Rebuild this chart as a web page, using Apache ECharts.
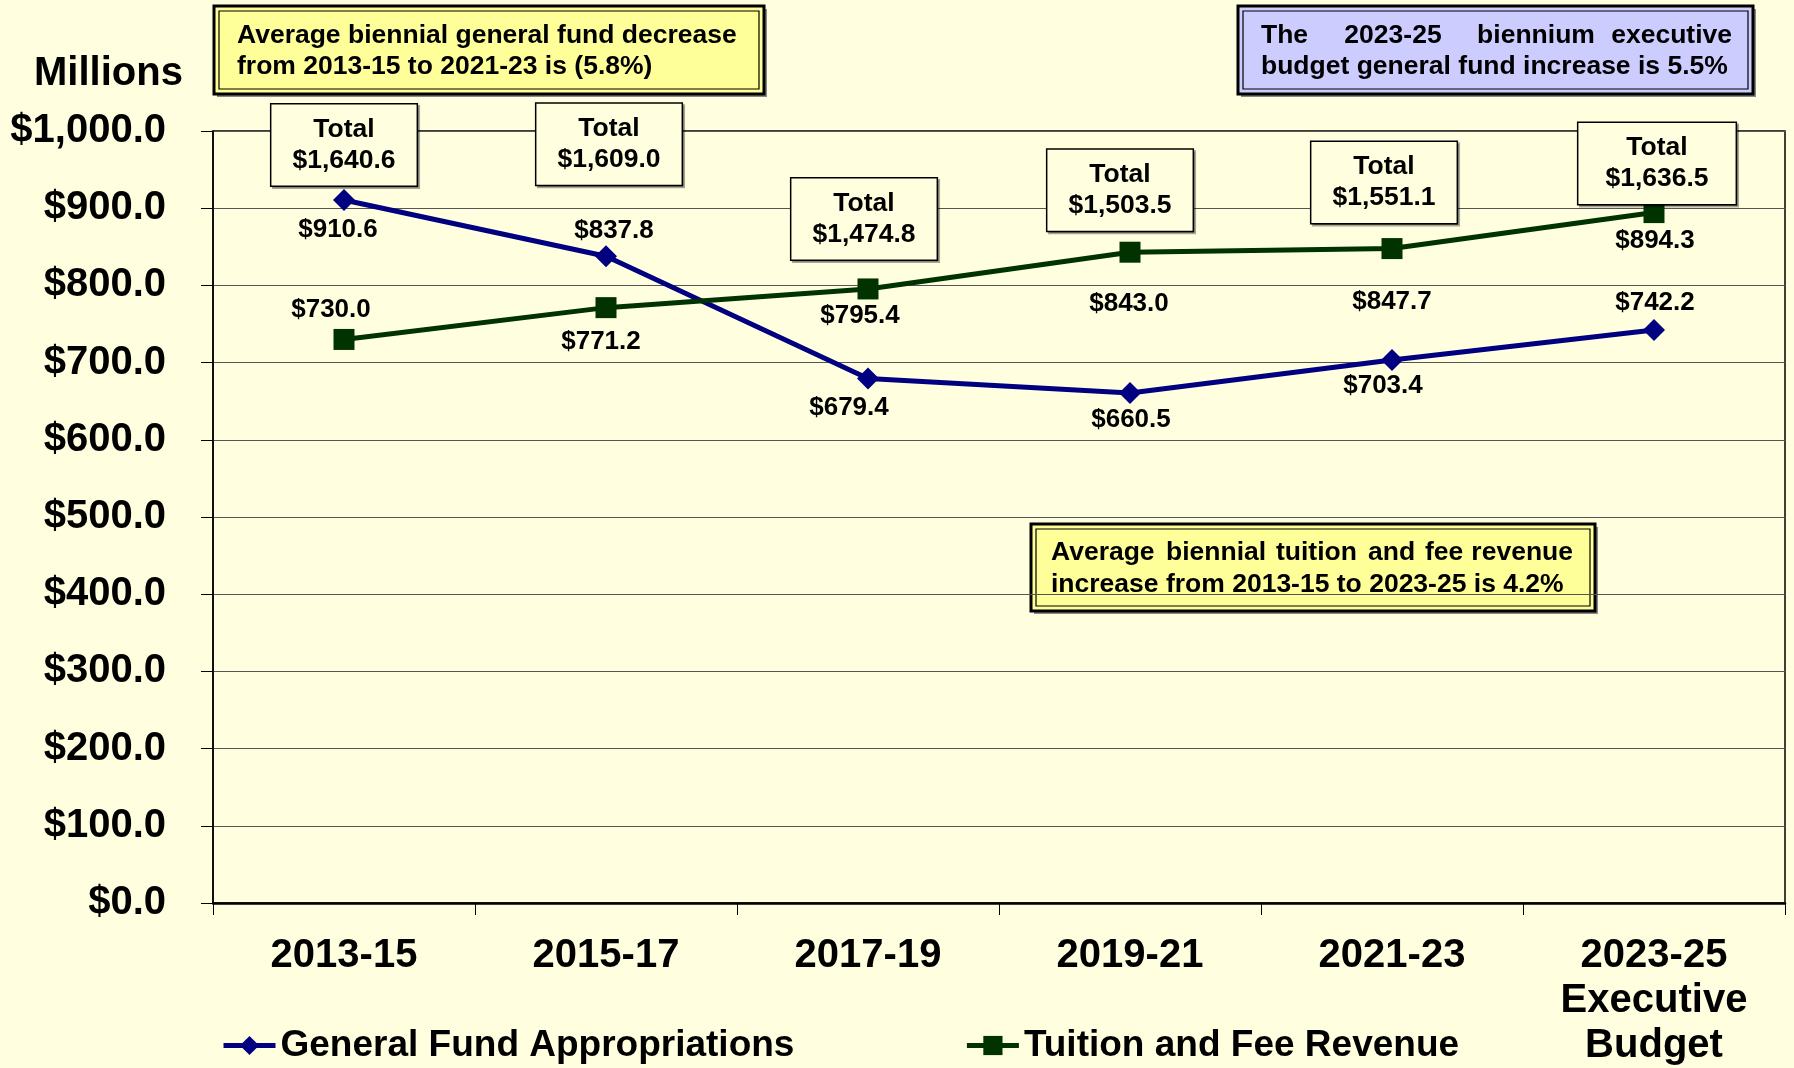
<!DOCTYPE html>
<html>
<head>
<meta charset="utf-8">
<script src="https://cdn.jsdelivr.net/npm/echarts@6/dist/echarts.min.js"></script>
<style>
  html, body { margin: 0; padding: 0; background: #FFFFE0; }
  #main { width: 1794px; height: 1068px; }
</style>
</head>
<body>
<div id="main"></div>
<script>
// biennium data, millions of dollars
const biennia = ['2013-15', '2015-17', '2017-19', '2019-21', '2021-23', '2023-25\nExecutive\nBudget'];
const generalFund = [910.6, 837.8, 679.4, 660.5, 703.4, 742.2];
const tuitionFees = [730.0, 771.2, 795.4, 843.0, 847.7, 894.3];
const yTicks = { min: 0, max: 1000, step: 100 };

// label placement (pixels, relative to the point)
const gfOffsets = [[-6, 30], [8, -25], [-19, 29], [1, 27], [-9, 26], [1, -27]];
const tfOffsets = [[-13, -30], [-5, 34], [-8, 27], [-1, 52], [0, 53], [1, 28]];
const totalOffsets = [[0, -55], [3, -112], [-4, -70], [-10, -62], [-8, -66], [3, -49]];

const FONT = '"Liberation Sans", Arial, sans-serif';
const BG = '#FFFFE0';

function money(v) {
  return '$' + v.toLocaleString('en-US', { minimumFractionDigits: 1, maximumFractionDigits: 1 });
}

var chartDom = document.getElementById('main');
var myChart = echarts.init(chartDom, null, { renderer: 'canvas' });

const totals = generalFund.map((g, i) => Math.round((g + tuitionFees[i]) * 10) / 10);

function valueLabels(values, offsets) {
  return values.map((v, i) => ({
    value: v,
    label: { offset: offsets[i] }
  }));
}

// annotation box with a double border
function noteBox(x, y, w, h, fill, lines) {
  return {
    type: 'group',
    children: [
      { type: 'rect', shape: { x: x + 3, y: y + 3, width: w, height: h }, style: { fill: '#888' } },
      { type: 'rect', shape: { x: x, y: y, width: w, height: h }, style: { fill: fill, stroke: '#000', lineWidth: 3 } },
      { type: 'rect', shape: { x: x + 5, y: y + 5, width: w - 10, height: h - 10 }, style: { fill: 'none', stroke: '#000', lineWidth: 1.2 } }
    ].concat(lines.map(l => ({
      type: 'text',
      x: l.x, y: l.y,
      style: {
        text: l.text, fill: '#000', fontFamily: FONT, fontWeight: 'bold', fontSize: 26.5,
        align: l.align || 'left', verticalAlign: 'middle'
      }
    })))
  };
}

var option = {
  backgroundColor: BG,
  animation: false,
  textStyle: { fontFamily: FONT },
  grid: {
    left: 213, right: 9, top: 131, bottom: 161,
    show: true, borderColor: '#000', borderWidth: 1.5, backgroundColor: 'transparent'
  },
  legend: {
    data: ['General Fund Appropriations', 'Tuition and Fee Revenue'],
    left: 216, top: 1022,
    itemWidth: 52, itemHeight: 24, itemGap: 170,
    lineStyle: { width: 5 },
    textStyle: { fontSize: 37, fontWeight: 'bold', color: '#000', fontFamily: FONT }
  },
  xAxis: {
    type: 'category',
    data: biennia,
    boundaryGap: true,
    axisLine: { lineStyle: { color: '#000', width: 2.5 } },
    axisTick: { show: true, length: 12, lineStyle: { color: '#000', width: 1 } },
    axisLabel: {
      interval: 0, margin: 30, color: '#000', fontSize: 40, fontWeight: 'bold',
      lineHeight: 45, fontFamily: FONT
    }
  },
  yAxis: {
    type: 'value',
    min: yTicks.min, max: yTicks.max, interval: yTicks.step,
    axisLine: { show: true, lineStyle: { color: '#000', width: 1.5 } },
    axisTick: { show: true, length: 12, lineStyle: { color: '#000', width: 1 } },
    splitLine: { lineStyle: { color: '#555', width: 1.2 } },
    axisLabel: {
      margin: 47, color: '#000', fontSize: 40, fontWeight: 'bold', fontFamily: FONT,
      formatter: v => money(v)
    }
  },
  series: [
    {
      name: 'General Fund Appropriations',
      type: 'line',
      data: valueLabels(generalFund, gfOffsets),
      symbol: 'diamond', symbolSize: 22,
      lineStyle: { color: '#000080', width: 5 },
      itemStyle: { color: '#000080' },
      label: {
        show: true, position: 'inside', color: '#000', fontSize: 26, fontWeight: 'bold',
        fontFamily: FONT, formatter: p => money(p.value)
      },
      z: 3
    },
    {
      name: 'Tuition and Fee Revenue',
      type: 'line',
      data: valueLabels(tuitionFees, tfOffsets),
      symbol: 'rect', symbolSize: 21,
      lineStyle: { color: '#003300', width: 5 },
      itemStyle: { color: '#003300' },
      label: {
        show: true, position: 'inside', color: '#000', fontSize: 26, fontWeight: 'bold',
        fontFamily: FONT, formatter: p => money(p.value)
      },
      z: 3
    },
    {
      // "Total" boxes, anchored on the higher of the two points
      name: 'Total',
      type: 'line',
      data: generalFund.map((g, i) => ({
        value: Math.max(g, tuitionFees[i]),
        label: {
          offset: totalOffsets[i],
          padding: i === 5 ? [13, 27, 6, 27] : [13, 21, 6, 21]
        }
      })),
      symbol: 'circle', symbolSize: 1, showSymbol: true,
      itemStyle: { color: 'rgba(0,0,0,0)' },
      lineStyle: { width: 0, color: 'rgba(0,0,0,0)' },
      silent: true,
      label: {
        show: true, position: 'inside', color: '#000', fontSize: 26.5, fontWeight: 'bold',
        fontFamily: FONT, lineHeight: 31, align: 'center', opacity: 1,
        backgroundColor: BG, borderColor: '#000', borderWidth: 1.5,
        shadowColor: 'rgba(0,0,0,0.35)', shadowOffsetX: 2, shadowOffsetY: 2,
        formatter: p => 'Total\n' + money(totals[p.dataIndex])
      },
      z: 5
    }
  ],
  graphic: [
    {
      type: 'text', left: 34, top: 54,
      style: { text: 'Millions', fill: '#000', fontFamily: FONT, fontWeight: 'bold', fontSize: 40 }
    },
    noteBox(214, 6, 550, 88, '#FFFF99', [
      { x: 237, y: 36, text: 'Average biennial general fund decrease' },
      { x: 237, y: 67, text: 'from 2013-15 to 2021-23 is (5.8%)' }
    ]),
    noteBox(1238, 6, 515, 88, '#CCCCFF', [
      { x: 1261, y: 36, text: 'The' },
      { x: 1393, y: 36, text: '2023-25', align: 'center' },
      { x: 1536, y: 36, text: 'biennium', align: 'center' },
      { x: 1732, y: 36, text: 'executive', align: 'right' },
      { x: 1261, y: 67, text: 'budget general fund increase is 5.5%' }
    ]),
    noteBox(1031, 524, 564, 87, '#FFFF99', [
      { x: 1051, y: 553, text: 'Average' },
      { x: 1166, y: 553, text: 'biennial' },
      { x: 1276, y: 553, text: 'tuition' },
      { x: 1368, y: 553, text: 'and' },
      { x: 1425, y: 553, text: 'fee' },
      { x: 1573, y: 553, text: 'revenue', align: 'right' },
      { x: 1051, y: 585, text: 'increase from 2013-15 to 2023-25 is 4.2%' }
    ])
  ]
};

option && myChart.setOption(option);
</script>
</body>
</html>
